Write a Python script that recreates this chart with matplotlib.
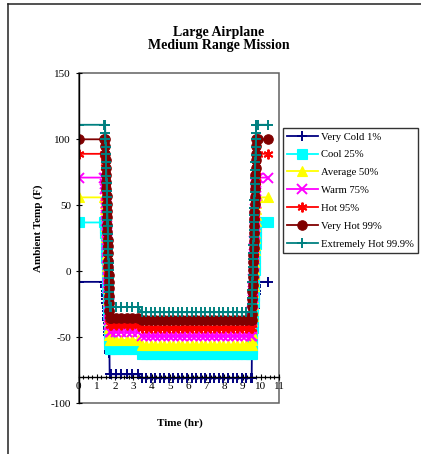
import matplotlib
matplotlib.use("Agg")
import matplotlib.pyplot as plt
from matplotlib.lines import Line2D
from matplotlib.patches import Rectangle
from matplotlib.ticker import MultipleLocator

plt.rcParams['font.family'] = ['Liberation Serif', 'DejaVu Serif']

# ---- mission profile data -------------------------------------------------
series_names = ["Very Cold 1%", "Cool 25%", "Average 50%", "Warm 75%",
                "Hot 95%", "Very Hot 99%", "Extremely Hot 99.9%"]
colors = ["#000080", "#00FFFF", "#FFFF00", "#FF00FF",
          "#FF0000", "#800000", "#008080"]
markers = ["+", "s", "^", "x", (6, 2, 0), "o", "+"]
marker_sizes = [7, 6.5, 7, 6.5, 7, 6.8, 7]

# time stamps (hr) for each mission phase
ground_out_hr = [0.0, 1.40]
climb_hr = [1.45, 1.46, 1.47, 1.48, 1.49, 1.50, 1.51, 1.52, 1.53, 1.54,
            1.55, 1.56, 1.57, 1.58, 1.59, 1.60, 1.61, 1.62, 1.63, 1.64,
            1.65, 1.66, 1.67, 1.68, 1.69, 1.70]
cruise1_hr = [1.75, 2.05, 2.35, 2.65, 2.95, 3.25]
cruise2_hr = [3.45, 3.70, 3.95, 4.20, 4.45, 4.70, 4.95, 5.20, 5.45, 5.70,
              5.95, 6.20, 6.45, 6.70, 6.95, 7.20, 7.45, 7.70, 7.95, 8.20,
              8.45, 8.70, 8.95, 9.20, 9.45]
descent_hr = [9.50, 9.51, 9.52, 9.53, 9.54, 9.55, 9.56, 9.57, 9.58, 9.59,
              9.60, 9.61, 9.62, 9.63, 9.64, 9.65, 9.66, 9.67, 9.68, 9.69,
              9.70, 9.71, 9.72, 9.73, 9.74, 9.75]
ground_in_hr = [9.85, 10.40]

# ambient temperatures (F)
ground_temp = [-8, 37, 56, 71, 89, 100, 111]
cruise1_temp = [-78, -59, -52, -46, -41, -35, -27]
cruise2_temp = [-81, -63, -56, -49, -43, -37, -31]

climb_temp = [
    [-8, -10, -12, -15, -17, -19, -21, -24, -26, -28, -30, -33, -35,
     -37, -39, -42, -44, -46, -48, -51, -53, -55, -57, -60, -62, -78],
    [37, 33, 29, 25, 22, 18, 14, 10, 6, 2, -1, -5, -9,
     -13, -17, -21, -24, -28, -32, -36, -40, -44, -47, -51, -55, -59],
    [56, 52, 47, 43, 39, 34, 30, 26, 21, 17, 13, 8, 4,
     0, -5, -9, -13, -17, -22, -26, -30, -35, -39, -43, -48, -52],
    [71, 66, 62, 57, 52, 48, 43, 38, 34, 29, 24, 20, 15,
     10, 5, 1, -4, -9, -13, -18, -23, -27, -32, -37, -41, -46],
    [89, 84, 79, 73, 68, 63, 58, 53, 47, 42, 37, 32, 27,
     21, 16, 11, 6, 1, -5, -10, -15, -20, -25, -31, -36, -41],
    [100, 95, 89, 84, 78, 73, 68, 62, 57, 51, 46, 41, 35,
     30, 24, 19, 14, 8, 3, -3, -8, -13, -19, -24, -30, -35],
    [111, 105, 100, 94, 89, 83, 78, 72, 67, 61, 56, 50, 45,
     39, 34, 28, 23, 17, 12, 6, 1, -5, -10, -16, -21, -27],
]

descent_temp = [
    [-81, -62, -60, -57, -55, -53, -51, -48, -46, -44, -42, -39, -37,
     -35, -33, -30, -28, -26, -24, -21, -19, -17, -15, -12, -10, -8],
    [-63, -59, -55, -51, -47, -43, -39, -35, -31, -27, -23, -19, -15,
     -11, -7, -3, 1, 5, 9, 13, 17, 21, 25, 29, 33, 37],
    [-56, -52, -47, -43, -38, -34, -29, -25, -20, -16, -11, -7, -2,
     2, 7, 11, 16, 20, 25, 29, 34, 38, 43, 47, 52, 56],
    [-49, -44, -39, -35, -30, -25, -20, -15, -11, -6, -1, 4, 9,
     13, 18, 23, 28, 33, 37, 42, 47, 52, 57, 61, 66, 71],
    [-43, -38, -32, -27, -22, -17, -11, -6, -1, 5, 10, 15, 20,
     26, 31, 36, 41, 47, 52, 57, 63, 68, 73, 78, 84, 89],
    [-37, -32, -26, -21, -15, -10, -4, 1, 7, 12, 18, 23, 29,
     34, 40, 45, 51, 56, 62, 67, 73, 78, 84, 89, 95, 100],
    [-31, -25, -20, -14, -8, -3, 3, 9, 14, 20, 26, 31, 37,
     43, 48, 54, 60, 66, 71, 77, 83, 88, 94, 100, 105, 111],
]

x_ticks = list(range(0, 12))
y_ticks = [-100, -50, 0, 50, 100, 150]

# ---- figure ---------------------------------------------------------------
W, H = 421, 454
fig = plt.figure(figsize=(W / 100, H / 100), dpi=100)


def fx(px):
    return px / W


def fy(py):
    return 1 - py / H


ax = fig.add_axes([fx(78.7), fy(403.3), fx(279) - fx(78.7), fy(73.3) - fy(403.3)])
ax.set_xlim(0, 11)
ax.set_ylim(-100, 150)

time_hr = ground_out_hr + climb_hr + cruise1_hr + cruise2_hr + descent_hr + ground_in_hr

handles = []
for i, name in enumerate(series_names):
    temps = ([ground_temp[i]] * len(ground_out_hr)
             + climb_temp[i]
             + [cruise1_temp[i]] * len(cruise1_hr)
             + [cruise2_temp[i]] * len(cruise2_hr)
             + descent_temp[i]
             + [ground_temp[i]] * len(ground_in_hr))
    stroke_marker = markers[i] in ("+", "x") or isinstance(markers[i], tuple)
    style = dict(color=colors[i], marker=markers[i], markersize=marker_sizes[i],
                 markeredgewidth=1.4 if stroke_marker else 0.8,
                 markerfacecolor=colors[i], markeredgecolor=colors[i], lw=1.3)
    ax.plot(time_hr, temps, **style)
    handles.append(Line2D([], [], **style))

# plot-area frame and axes
for side in ("top", "right"):
    ax.spines[side].set_visible(False)
ax.add_patch(Rectangle((0, 0), 1, 1, transform=ax.transAxes, fill=False,
                       edgecolor="#606060", lw=1.1, clip_on=False, zorder=0.5))
ax.spines["left"].set_color("black")
ax.spines["left"].set_linewidth(1.0)
ax.spines["bottom"].set_position(("data", -80))
ax.spines["bottom"].set_color("black")
ax.spines["bottom"].set_linewidth(1.0)

ax.set_xticks(x_ticks)
ax.set_xticklabels([str(t) for t in x_ticks])
ax.xaxis.set_minor_locator(MultipleLocator(0.25))
ax.set_yticks(y_ticks)
ax.set_yticklabels([str(t) for t in y_ticks])
ax.tick_params(axis="x", which="major", direction="inout", length=5, width=0.8,
               labelsize=8, pad=1)
ax.tick_params(axis="x", which="minor", direction="inout", length=3.5, width=0.8)
ax.tick_params(axis="y", which="major", direction="inout", length=5, width=0.8,
               labelsize=8, pad=3)

# titles and labels
fig.text(fx(219), fy(32.7), "Large Airplane", ha="center", va="center",
         fontsize=10, fontweight="bold")
fig.text(fx(219), fy(45.5), "Medium Range Mission", ha="center", va="center",
         fontsize=10, fontweight="bold")
fig.text(fx(38), fy(228), "Ambient Temp (F)", rotation=90, ha="center",
         va="center", fontsize=8, fontweight="bold")
fig.text(fx(180), fy(423), "Time (hr)", ha="center", va="center",
         fontsize=8, fontweight="bold")

leg = fig.legend(handles, series_names, loc="upper left",
                 bbox_to_anchor=(fx(283), fy(128)), bbox_transform=fig.transFigure,
                 fontsize=7.7, frameon=True, fancybox=False, shadow=False,
                 handlelength=2.85, handletextpad=0.3, labelspacing=0.78,
                 borderpad=0.38, borderaxespad=0)
leg.get_frame().set_edgecolor("black")
leg.get_frame().set_linewidth(1.0)

# chart border
fig.add_artist(Line2D([fx(7.5), fx(7.5)], [fy(4), 0], color="#222222", lw=1.1))
fig.add_artist(Line2D([fx(7.5), 1], [fy(4), fy(4)], color="#222222", lw=1.1))

fig.savefig("out.png", dpi=100)
